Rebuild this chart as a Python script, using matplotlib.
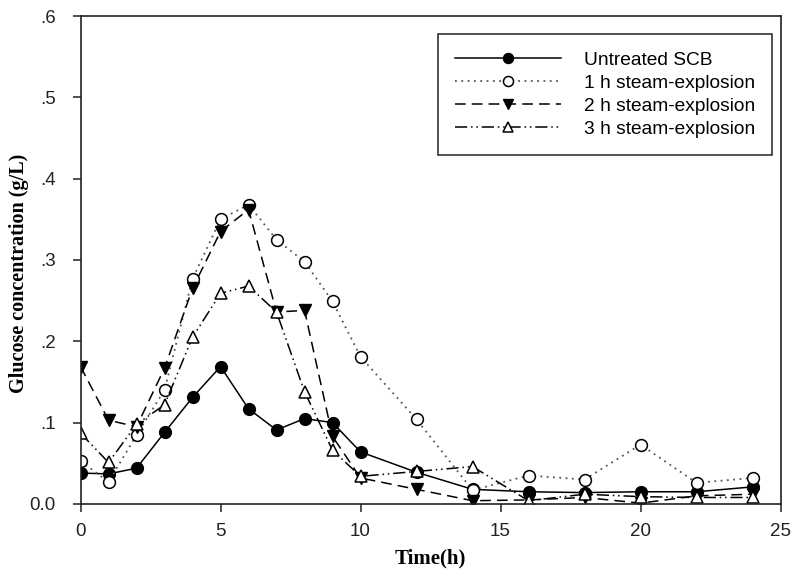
import matplotlib
matplotlib.use("Agg")
import matplotlib.pyplot as plt
from matplotlib.ticker import FixedLocator, FixedFormatter

# --- donnees : glucose (g/L) en fonction du temps (h) ---
time_h = [0, 1, 2, 3, 4, 5, 6, 7, 8, 9, 10, 12, 14, 16, 18, 20, 22, 24]

untreated = [0.038, 0.037, 0.044, 0.088, 0.131, 0.169, 0.117, 0.091, 0.105, 0.100,
             0.064, 0.039, 0.018, 0.015, 0.014, 0.015, 0.015, 0.021]
steam_1h = [0.053, 0.027, 0.085, 0.140, 0.277, 0.350, 0.368, 0.325, 0.298, 0.249,
            0.181, 0.104, 0.017, 0.035, 0.030, 0.073, 0.026, 0.032]
steam_2h = [0.169, 0.103, 0.095, 0.167, 0.265, 0.335, 0.362, 0.236, 0.238, 0.083,
            0.032, 0.018, 0.004, 0.005, 0.008, 0.001, 0.010, 0.012]
steam_3h = [0.087, 0.051, 0.098, 0.122, 0.205, 0.259, 0.268, 0.236, 0.138, 0.066,
            0.034, 0.040, 0.046, 0.004, 0.012, 0.009, 0.008, 0.008]

labels = ["Untreated SCB", "1 h steam-explosion",
          "2 h steam-explosion", "3 h steam-explosion"]

x_ticks = [0, 5, 10, 15, 20, 25]
y_ticks = [0.0, 0.1, 0.2, 0.3, 0.4, 0.5, 0.6]
y_tick_labels = ["0.0", ".1", ".2", ".3", ".4", ".5", ".6"]

# --- figure ---
fig = plt.figure(figsize=(7.95, 5.74), dpi=100)
ax = fig.add_axes([0.1013, 0.1220, 0.8805, 0.8501])

ms = 8.5
lw = 1.1
ax.plot(time_h, untreated, color="black", lw=lw, ls="-", marker="o",
        ms=ms, mfc="black", mec="black", label=labels[0])
ax.plot(time_h, steam_1h, color="#555555", lw=1.3, ls=(0, (1, 2.5)), marker="o",
        ms=ms, mfc="white", mec="black", mew=1.1, label=labels[1])
ax.plot(time_h, steam_2h, color="black", lw=lw, ls=(0, (7, 4)), marker="v",
        ms=ms, mfc="black", mec="black", label=labels[2])
ax.plot(time_h, steam_3h, color="black", lw=lw, ls=(0, (8, 2.5, 1, 2.5, 1, 2.5)),
        marker="^", ms=ms, mfc="white", mec="black", mew=1.1, label=labels[3])

ax.set_xlim(0, 25)
ax.set_ylim(0, 0.6)
ax.xaxis.set_major_locator(FixedLocator(x_ticks))
ax.yaxis.set_major_locator(FixedLocator(y_ticks))
ax.yaxis.set_major_formatter(FixedFormatter(y_tick_labels))

# cadre complet
for side in ["top", "right", "left", "bottom"]:
    ax.spines[side].set_linewidth(1.2)
    ax.spines[side].set_color("#222222")

ax.tick_params(direction="out", length=6, width=1.1, labelsize=13.5,
               colors="#222222")
ax.tick_params(axis="x", pad=8)
ax.tick_params(axis="y", pad=12)
for lab in ax.get_xticklabels() + ax.get_yticklabels():
    lab.set_fontfamily("Liberation Sans")

ax.set_xlabel("Time(h)", fontsize=15, fontfamily="Liberation Serif",
              fontweight="bold", labelpad=6)
ax.set_ylabel("Glucose concentration (g/L)", fontsize=14.5,
              fontfamily="Liberation Serif", fontweight="bold")
ax.yaxis.set_label_coords(-0.073, 0.473)

leg = ax.legend(loc="upper right", bbox_to_anchor=(772 / 795, 1 - 34 / 574),
                bbox_transform=fig.transFigure, fancybox=False, framealpha=1,
                edgecolor="#222222", handlelength=5.5, numpoints=1,
                markerscale=0.85,
                prop={"family": "Liberation Sans", "size": 13.8},
                borderpad=0.9, labelspacing=0.3, handletextpad=1.2,
                borderaxespad=0)
leg.get_frame().set_linewidth(1.1)

fig.savefig("out.png", dpi=100)
